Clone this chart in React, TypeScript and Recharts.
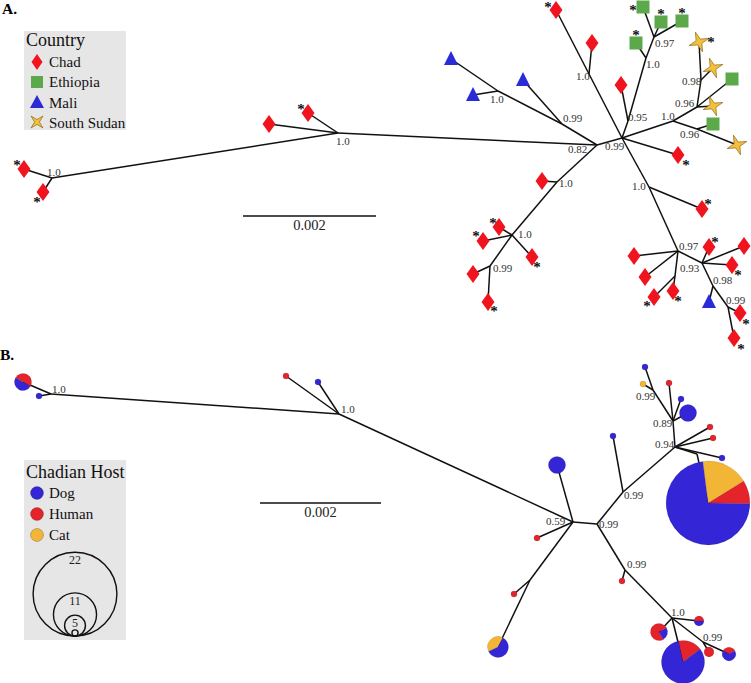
import React from 'react';
import { ComposedChart, Scatter, XAxis, YAxis, Legend } from 'recharts';

const SERIF = '"Liberation Serif", "Times New Roman", "DejaVu Serif", serif';

// ---------- Panel A (country tree) ----------
const aInternal: [string, number, number][] = [
  ['L', 52, 178], ['N1', 338, 133], ['N082', 597, 145], ['M099', 562, 124], ['M10', 498, 91],
  ['C', 622, 138], ['U10', 589, 74], ['N095', 628, 121], ['E10', 646, 58], ['E097', 654, 37],
  ['R10', 673, 121], ['S096u', 697, 107], ['S098', 701, 80], ['S096l', 697, 129],
  ['LR10', 649, 187], ['B097', 678, 251], ['BN1', 675, 276], ['B093', 702, 263], ['B098', 713, 286],
  ['B099', 728, 307], ['LL10', 557, 182], ['LL10b', 512, 235], ['LL099', 490, 266],
];
const chadLeaves: [string, number, number][] = [
  ['c1', 24, 169], ['c2', 43, 192], ['c3', 269, 124], ['c4', 308, 113], ['c5', 556, 10],
  ['c6', 592, 43], ['c7', 621, 85], ['c8', 678, 155], ['c9', 702, 209], ['c10', 634, 256],
  ['c11', 645, 277], ['c12', 654, 297], ['c13', 673, 291], ['c14', 709, 247], ['c15', 744, 246],
  ['c16', 732, 265], ['c17', 740, 313], ['c18', 734, 338], ['c19', 542, 181], ['c20', 499, 227],
  ['c21', 483, 241], ['c22', 532, 257], ['c23', 473, 274], ['c24', 488, 302],
];
const ethiopiaLeaves: [string, number, number][] = [
  ['e1', 643, 7], ['e2', 661, 22], ['e3', 682, 21], ['e4', 636, 43], ['e5', 732, 79], ['e6', 713, 124],
];
const maliLeaves: [string, number, number][] = [
  ['m1', 451, 59], ['m2', 473, 95], ['m3', 523, 80], ['m4', 709, 302],
];
const southSudanLeaves: [string, number, number][] = [
  ['s1', 699, 42], ['s2', 713, 68], ['s3', 713, 106], ['s4', 737, 145],
];
const aEdges: [string, string][] = [
  ['L', 'c1'], ['L', 'c2'], ['L', 'N1'], ['N1', 'c3'], ['N1', 'c4'], ['N1', 'N082'],
  ['N082', 'M099'], ['M099', 'm3'], ['M099', 'M10'], ['M10', 'm1'], ['M10', 'm2'],
  ['N082', 'C'], ['N082', 'LL10'], ['LL10', 'c19'], ['LL10', 'LL10b'], ['LL10b', 'c20'],
  ['LL10b', 'c21'], ['LL10b', 'c22'], ['LL10b', 'LL099'], ['LL099', 'c23'], ['LL099', 'c24'],
  ['C', 'U10'], ['U10', 'c5'], ['U10', 'c6'],
  ['C', 'N095'], ['N095', 'c7'], ['N095', 'E10'], ['E10', 'e4'], ['E10', 'E097'],
  ['E097', 'e1'], ['E097', 'e2'], ['E097', 'e3'],
  ['C', 'R10'], ['R10', 'S096u'], ['S096u', 's3'], ['S096u', 'e5'], ['S096u', 'S098'],
  ['S098', 's1'], ['S098', 's2'], ['R10', 'S096l'], ['S096l', 'e6'], ['S096l', 's4'],
  ['C', 'c8'],
  ['C', 'LR10'], ['LR10', 'c9'], ['LR10', 'B097'], ['B097', 'c10'], ['B097', 'c11'],
  ['B097', 'BN1'], ['BN1', 'c12'], ['BN1', 'c13'], ['B097', 'B093'], ['B093', 'c14'],
  ['B093', 'c15'], ['B093', 'c16'], ['B093', 'B098'], ['B098', 'm4'], ['B098', 'B099'],
  ['B099', 'c17'], ['B099', 'c18'],
];
const aSupport: [string, number, number][] = [
  ['1.0', 47, 176], ['1.0', 336, 145], ['0.82', 568, 153], ['0.99', 605, 150], ['0.99', 563, 122],
  ['1.0', 490, 103], ['1.0', 576, 80], ['0.95', 628, 121], ['1.0', 646, 68], ['0.97', 655, 47],
  ['1.0', 661, 120], ['0.96', 675, 107], ['0.98', 682, 85], ['0.96', 680, 138], ['1.0', 632, 190],
  ['0.97', 679, 250], ['0.93', 680, 272], ['0.98', 713, 284], ['0.99', 726, 304], ['1.0', 559, 187],
  ['1.0', 518, 238], ['0.99', 493, 272],
];
const aAsterisks: [number, number][] = [
  [17, 163], [37, 200], [301, 107], [548, 5], [633, 8], [661, 12], [682, 11], [636, 33], [711, 40],
  [686, 163], [708, 202], [715, 240], [738, 273], [647, 304], [678, 299], [746, 322], [741, 347],
  [493, 221], [476, 234], [537, 265], [494, 309],
];
const countryNames = ['Chad', 'Ethiopia', 'Mali', 'South Sudan'];

// ---------- Panel B (Chadian host tree) ----------
const bInternal: [string, number, number][] = [
  ['bL', 51, 394], ['b1', 339, 414], ['b059', 573, 522], ['bN2', 530, 580], ['b099a', 597, 524],
  ['b099b', 623, 492], ['b094', 675, 447], ['bK', 697, 454], ['b089', 673, 421], ['b099c', 653, 390],
  ['b099d', 625, 570], ['b10', 672, 618], ['b099e', 703, 642],
];
// id, x, y, dog, human, cat, start angle of slices
const bLeaves: [string, number, number, number, number, number, number][] = [
  ['p1', 23, 382, 2, 2, 0, -30], ['p2', 39, 396, 1, 0, 0, 0], ['p3', 286, 376, 0, 1, 0, 0],
  ['p4', 318, 382, 1, 0, 0, 0], ['p5', 557, 465, 4, 0, 0, 0], ['p6', 537, 538, 0, 1, 0, 0],
  ['p7', 514, 594, 0, 1, 0, 0], ['p8', 498, 647, 3, 0, 2, 62], ['p9', 613, 436, 1, 0, 0, 0],
  ['p10', 710, 427, 0, 1, 0, 0], ['p11', 713, 438, 0, 1, 0, 0], ['p12', 722, 458, 1, 0, 0, 0],
  ['p13', 708, 503, 16, 2, 4, -1], ['p14', 669, 383, 0, 1, 0, 0], ['p15', 681, 399, 1, 0, 0, 0],
  ['p16', 688, 413, 4, 0, 0, 0], ['p17', 645, 367, 1, 0, 0, 0], ['p18', 643, 384, 0, 0, 1, 0],
  ['p19', 622, 581, 0, 1, 0, 0], ['p20', 699, 621, 1, 1, 0, 0], ['p21', 659, 632, 1, 3, 0, 30],
  ['p22', 683, 662, 9, 2, 0, 37], ['p23', 709, 652, 0, 2, 0, 0], ['p24', 729, 654, 2, 1, 0, 30],
];
const bEdges: [string, string][] = [
  ['bL', 'p1'], ['bL', 'p2'], ['bL', 'b1'], ['b1', 'p3'], ['b1', 'p4'], ['b1', 'b059'],
  ['b059', 'p5'], ['b059', 'p6'], ['b059', 'bN2'], ['bN2', 'p7'], ['bN2', 'p8'], ['b059', 'b099a'],
  ['b099a', 'b099b'], ['b099b', 'p9'], ['b099b', 'b094'], ['b094', 'p10'], ['b094', 'p11'],
  ['b094', 'p12'], ['b094', 'bK'], ['bK', 'p13'], ['b094', 'b089'], ['b089', 'p14'], ['b089', 'p15'],
  ['b089', 'p16'], ['b089', 'b099c'], ['b099c', 'p17'], ['b099c', 'p18'], ['b099a', 'b099d'],
  ['b099d', 'p19'], ['b099d', 'b10'], ['b10', 'p20'], ['b10', 'p21'], ['b10', 'p22'],
  ['b10', 'b099e'], ['b099e', 'p23'], ['b099e', 'p24'],
];
const bSupport: [string, number, number][] = [
  ['1.0', 52, 393], ['1.0', 341, 413], ['0.59', 546, 525], ['0.99', 599, 528], ['0.99', 624, 499],
  ['0.94', 655, 448], ['0.89', 653, 427], ['0.99', 636, 400], ['0.99', 627, 568], ['1.0', 671, 616],
  ['0.99', 703, 641],
];
const hostNames = ['Dog', 'Human', 'Cat'];
const sizeLegendCounts = [22, 11, 5, 1];

// scale bars: [x1, x2, y, label]
const scaleBarA: [number, number, number, string] = [243, 376, 216, '0.002'];
const scaleBarB: [number, number, number, string] = [260, 381, 503, '0.002'];

// ---------- styles ----------
const COL = {
  chad: '#f0141e', eth: '#5ca94c', mali: '#2a2ad6', ss: '#f3c03d',
  dog: '#3425d6', human: '#e5232a', cat: '#f2b535',
};
const radiusFor = (n: number) => 1.85 * n + 1.2;

const Empty = () => <g />;

const Diamond = (p: any) => (
  <path d={`M${p.cx},${p.cy - 9}L${p.cx + 6.5},${p.cy}L${p.cx},${p.cy + 9}L${p.cx - 6.5},${p.cy}Z`} fill={COL.chad} />
);
const Square = (p: any) => <rect x={p.cx - 6.5} y={p.cy - 6.5} width={13} height={13} fill={COL.eth} />;
const Triangle = (p: any) => (
  <path d={`M${p.cx},${p.cy - 8}L${p.cx + 7},${p.cy + 6}L${p.cx - 7},${p.cy + 6}Z`} fill={COL.mali} />
);
const starPath = (cx: number, cy: number, ro: number, ri: number, rot: number) => {
  let d = '';
  for (let k = 0; k < 8; k++) {
    const a = ((rot + k * 45) * Math.PI) / 180;
    const r = k % 2 === 0 ? ro : ri;
    d += `${k === 0 ? 'M' : 'L'}${cx + r * Math.cos(a)},${cy - r * Math.sin(a)}`;
  }
  return d + 'Z';
};
const Star = (p: any) => <path d={starPath(p.cx, p.cy, 10.5, 3.2, 20)} fill={COL.ss} stroke="#8a6a1a" strokeWidth={0.7} />;
const Asterisk = (p: any) => (
  <text x={p.cx} y={p.cy + 7} textAnchor="middle" fontFamily={SERIF} fontWeight="bold" fontSize={15} fill="#111">*</text>
);
const SupportText = (p: any) => (
  <text x={p.cx} y={p.cy} fontFamily={SERIF} fontSize={11} fill="#333">{p.payload.text}</text>
);
const ScaleText = (p: any) => (
  <text x={p.cx} y={p.cy} textAnchor="middle" fontFamily={SERIF} fontSize={14.5} fill="#222">{p.payload.text}</text>
);
const PanelText = (p: any) => (
  <text x={p.cx} y={p.cy} fontFamily={SERIF} fontWeight="bold" fontSize={15.5} fill="#000">{p.payload.text}</text>
);

const PieNode = (p: any) => {
  const { cx, cy, payload } = p;
  const parts = [
    { v: payload.human, c: COL.human },
    { v: payload.cat, c: COL.cat },
    { v: payload.dog, c: COL.dog },
  ].filter((q) => q.v > 0);
  const n = payload.dog + payload.human + payload.cat;
  const r = radiusFor(n);
  if (parts.length === 1) {
    return <circle cx={cx} cy={cy} r={r} fill={parts[0].c} stroke="rgba(0,0,0,0.25)" strokeWidth={0.5} />;
  }
  let a = payload.start;
  const els: any[] = [];
  parts.forEach((q, i) => {
    const span = (q.v / n) * 360;
    const a0 = (a * Math.PI) / 180;
    const a1 = ((a + span) * Math.PI) / 180;
    const x0 = cx + r * Math.cos(a0), y0 = cy - r * Math.sin(a0);
    const x1 = cx + r * Math.cos(a1), y1 = cy - r * Math.sin(a1);
    els.push(
      <path key={i} d={`M${cx},${cy}L${x0},${y0}A${r},${r} 0 ${span > 180 ? 1 : 0} 0 ${x1},${y1}Z`} fill={q.c} stroke="rgba(0,0,0,0.2)" strokeWidth={0.5} />
    );
    a += span;
  });
  return <g>{els}</g>;
};

const toPos = (arr: any[]) => {
  const m: Record<string, { x: number; y: number }> = {};
  arr.forEach((r) => { m[r[0]] = { x: r[1], y: r[2] }; });
  return m;
};
const posA = toPos([...aInternal, ...chadLeaves, ...ethiopiaLeaves, ...maliLeaves, ...southSudanLeaves]);
const posB = toPos([...bInternal, ...bLeaves]);
const pts = (arr: [string, number, number][]) => arr.map(([, x, y]) => ({ x, y }));

const LegendA = () => (
  <svg width={102} height={99} style={{ display: 'block' }}>
    <rect x={0} y={0} width={102} height={99} fill="#e6e6e6" />
    <text x={2} y={15} fontFamily={SERIF} fontSize={18} fill="#111">Country</text>
    <path d={`M13,${31 - 8}L18.5,31L13,${31 + 8}L7.5,31Z`} fill={COL.chad} />
    <rect x={7} y={45} width={12} height={12} fill={COL.eth} />
    <path d="M13,64L20,77L6,77Z" fill={COL.mali} />
    <path d={starPath(13, 91, 8.5, 2.4, 45)} fill={COL.ss} stroke="#8a6a1a" strokeWidth={0.7} />
    {countryNames.map((n, i) => (
      <text key={n} x={25} y={36 + i * 20.3} fontFamily={SERIF} fontSize={15} fill="#111">{n}</text>
    ))}
  </svg>
);

const LegendB = () => {
  const bottom = 176;
  return (
    <svg width={102} height={180} style={{ display: 'block' }}>
      <rect x={0} y={0} width={102} height={180} fill="#e6e6e6" />
      <text x={2} y={18} fontFamily={SERIF} fontSize={18} fill="#111">Chadian Host</text>
      {hostNames.map((n, i) => (
        <g key={n}>
          <circle cx={13} cy={33 + i * 21} r={6.5} fill={[COL.dog, COL.human, COL.cat][i]} stroke="rgba(0,0,0,0.35)" strokeWidth={0.6} />
          <text x={25} y={37.5 + i * 21} fontFamily={SERIF} fontSize={15} fill="#111">{n}</text>
        </g>
      ))}
      {sizeLegendCounts.map((c) => {
        const r = radiusFor(c);
        return (
          <g key={c}>
            <circle cx={51} cy={bottom - r} r={r} fill="none" stroke="#111" strokeWidth={1.4} />
            {c > 1 && (
              <text x={51} y={bottom - 2 * r + 12} textAnchor="middle" fontFamily={SERIF} fontSize={12} fill="#222">{c}</text>
            )}
          </g>
        );
      })}
    </svg>
  );
};

const edgeLine = { stroke: '#111', strokeWidth: 1.5 };
const A_H = 360;
const B_TOP = 340;
const B_H = 343;

export default function App() {
  return (
    <div style={{ position: 'absolute', left: 0, top: 0, width: 751, height: 683, background: '#fff' }}>
      <div style={{ position: 'absolute', left: 0, top: 0 }}>
        <ComposedChart width={751} height={A_H} margin={{ top: 0, right: 0, bottom: 0, left: 0 }}>
          <XAxis type="number" dataKey="x" domain={[0, 751]} hide allowDataOverflow />
          <YAxis type="number" dataKey="y" domain={[0, A_H]} reversed hide allowDataOverflow />
          {aEdges.map(([a, b], i) => (
            <Scatter key={'ea' + i} data={[posA[a], posA[b]]} line={edgeLine} shape={Empty} isAnimationActive={false} legendType="none" />
          ))}
          <Scatter
            data={[{ x: scaleBarA[0], y: scaleBarA[2] }, { x: scaleBarA[1], y: scaleBarA[2] }]}
            line={edgeLine} shape={Empty} isAnimationActive={false} legendType="none"
          />
          <Scatter data={[{ x: (scaleBarA[0] + scaleBarA[1]) / 2, y: scaleBarA[2] + 14, text: scaleBarA[3] }]} shape={ScaleText} isAnimationActive={false} legendType="none" />
          <Scatter data={pts(chadLeaves)} shape={Diamond} isAnimationActive={false} legendType="none" />
          <Scatter data={pts(ethiopiaLeaves)} shape={Square} isAnimationActive={false} legendType="none" />
          <Scatter data={pts(maliLeaves)} shape={Triangle} isAnimationActive={false} legendType="none" />
          <Scatter data={pts(southSudanLeaves)} shape={Star} isAnimationActive={false} legendType="none" />
          <Scatter data={aAsterisks.map(([x, y]) => ({ x, y }))} shape={Asterisk} isAnimationActive={false} legendType="none" />
          <Scatter data={aSupport.map(([text, x, y]) => ({ x, y, text }))} shape={SupportText} isAnimationActive={false} legendType="none" />
          <Scatter data={[{ x: 2, y: 14, text: 'A.' }]} shape={PanelText} isAnimationActive={false} legendType="none" />
          <Legend layout="vertical" align="center" verticalAlign="middle" content={LegendA}
            wrapperStyle={{ left: 24, top: 31, width: 102, height: 99 }} />
        </ComposedChart>
      </div>
      <div style={{ position: 'absolute', left: 0, top: B_TOP }}>
        <ComposedChart width={751} height={B_H} margin={{ top: 0, right: 0, bottom: 0, left: 0 }}>
          <XAxis type="number" dataKey="x" domain={[0, 751]} hide allowDataOverflow />
          <YAxis type="number" dataKey="y" domain={[B_TOP, B_TOP + B_H]} reversed hide allowDataOverflow />
          {bEdges.map(([a, b], i) => (
            <Scatter key={'eb' + i} data={[posB[a], posB[b]]} line={edgeLine} shape={Empty} isAnimationActive={false} legendType="none" />
          ))}
          <Scatter
            data={[{ x: scaleBarB[0], y: scaleBarB[2] }, { x: scaleBarB[1], y: scaleBarB[2] }]}
            line={edgeLine} shape={Empty} isAnimationActive={false} legendType="none"
          />
          <Scatter data={[{ x: (scaleBarB[0] + scaleBarB[1]) / 2, y: scaleBarB[2] + 14, text: scaleBarB[3] }]} shape={ScaleText} isAnimationActive={false} legendType="none" />
          <Scatter
            data={bLeaves.map(([, x, y, dog, human, cat, start]) => ({ x, y, dog, human, cat, start }))}
            shape={PieNode} isAnimationActive={false} legendType="none"
          />
          <Scatter data={bSupport.map(([text, x, y]) => ({ x, y, text }))} shape={SupportText} isAnimationActive={false} legendType="none" />
          <Scatter data={[{ x: 0, y: 360, text: 'B.' }]} shape={PanelText} isAnimationActive={false} legendType="none" />
          <Legend layout="vertical" align="center" verticalAlign="middle" content={LegendB}
            wrapperStyle={{ left: 24, top: 460 - B_TOP, width: 102, height: 180 }} />
        </ComposedChart>
      </div>
    </div>
  );
}
